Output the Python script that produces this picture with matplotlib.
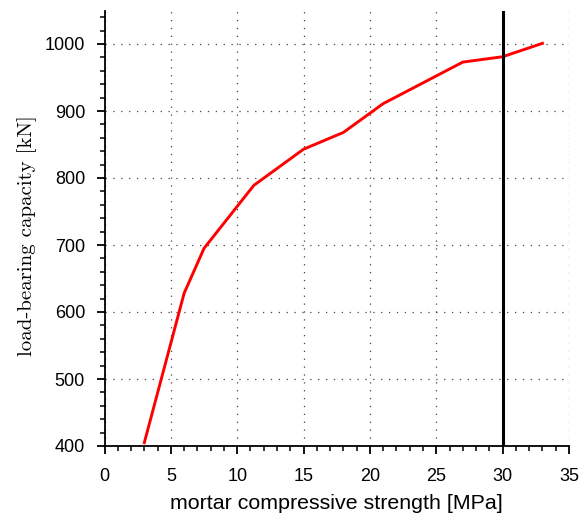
import matplotlib
matplotlib.use("Agg")
import matplotlib.pyplot as plt
from matplotlib.ticker import MultipleLocator

# mortar compressive strength [MPa] vs load-bearing capacity [kN]
strength = [3, 6, 7.5, 11.25, 15, 18, 21, 24, 27, 30, 33]
capacity = [405, 628, 695, 789, 843, 868, 911, 942, 973, 981, 1001]
design_strength = 30

x_ticks = [0, 5, 10, 15, 20, 25, 30, 35]
y_ticks = [400, 500, 600, 700, 800, 900, 1000]

fig = plt.figure(figsize=(5.87, 5.16), dpi=100)
ax = fig.add_axes([104.5 / 587, 1 - 446 / 516, (569 - 104.5) / 587, (446 - 10.5) / 516])

ax.plot(strength, capacity, color="#ff0000", lw=2.1, zorder=3)
ax.axvline(design_strength, color="black", lw=2.2, zorder=4)

ax.set_xlim(0, 35)
ax.set_ylim(400, 1050)
ax.set_xticks(x_ticks)
ax.set_yticks(y_ticks)
ax.xaxis.set_minor_locator(MultipleLocator(1))
ax.yaxis.set_minor_locator(MultipleLocator(20))

ax.grid(True, which="major", color="#444444", lw=0.9, linestyle=(0, (1, 5.3)))
ax.set_axisbelow(True)

for side in ("top", "right"):
    ax.spines[side].set_visible(False)
for side in ("left", "bottom"):
    ax.spines[side].set_linewidth(1.3)

ax.tick_params(which="major", direction="out", length=6, width=1.3, labelsize=13)
ax.tick_params(which="minor", direction="out", length=3.5, width=1.1)
ax.tick_params(axis="x", which="major", pad=10)
ax.tick_params(axis="y", which="major", pad=8)
for lab in ax.get_xticklabels() + ax.get_yticklabels():
    lab.set_fontfamily("Liberation Sans")

ax.set_xlabel("mortar compressive strength [MPa]", fontsize=15.4,
              fontfamily="Liberation Sans", labelpad=6)
ax.set_ylabel("load-bearing capacity [kN]", fontsize=15,
              fontfamily="cmr10")
ax.yaxis.set_label_coords(-0.146, 0.484)

fig.savefig("out.png", dpi=100)
